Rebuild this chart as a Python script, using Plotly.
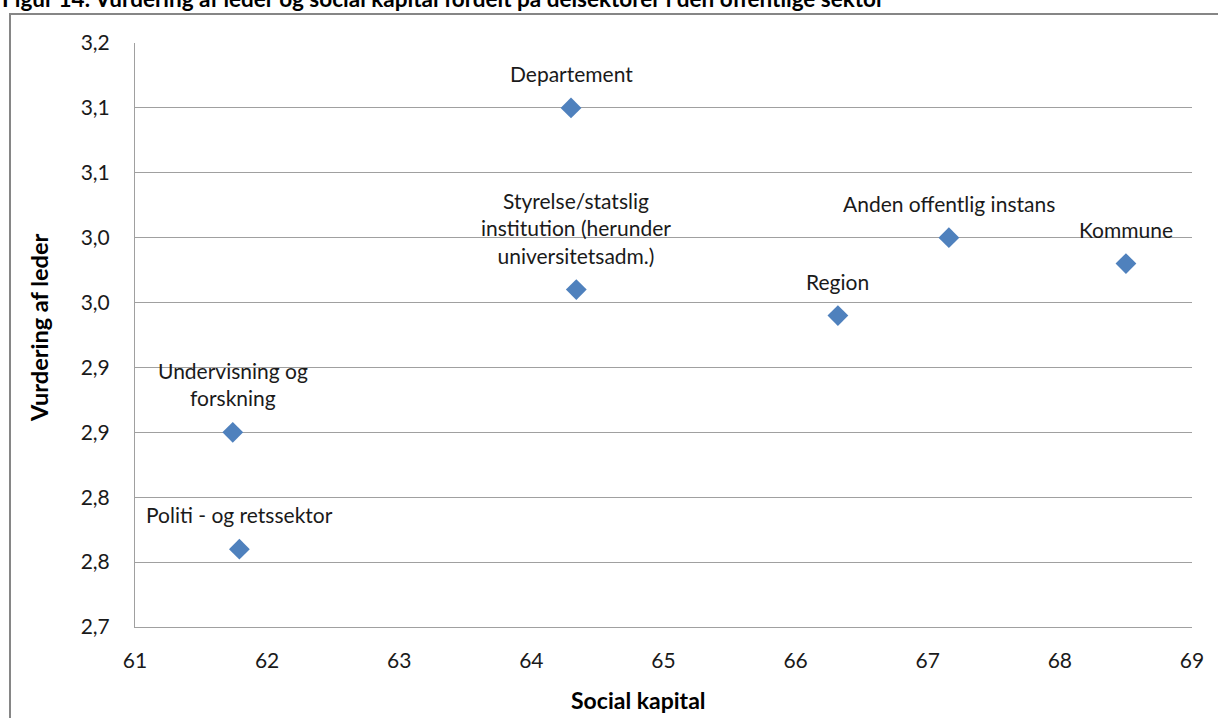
import plotly.graph_objects as go

# Data
labels = ["Departement", "Styrelse/statslig<br>institution (herunder<br>universitetsadm.)",
          "Anden offentlig instans", "Kommune", "Region",
          "Undervisning og<br>forskning", "Politi - og retssektor"]
social_kapital = [64.30, 64.34, 67.16, 68.50, 66.32, 61.74, 61.79]
vurdering = [3.10, 2.96, 3.00, 2.98, 2.94, 2.85, 2.76]

y_tickvals = [2.70, 2.75, 2.80, 2.85, 2.90, 2.95, 3.00, 3.05, 3.10, 3.15]
y_ticktext = ["2,7", "2,8", "2,8", "2,9", "2,9", "3,0", "3,0", "3,1", "3,1", "3,2"]
x_tickvals = [61, 62, 63, 64, 65, 66, 67, 68, 69]

FONT = "Lato"
W, H = 1218, 718
ml, mr, mt, mb = 135, 26, 43, 91
pw = W - ml - mr
ph = H - mt - mb

def px_x(px):
    return (px - ml) / pw

def px_y(py):
    return 1 - (py - mt) / ph

fig = go.Figure()
fig.add_trace(go.Scatter(
    x=social_kapital, y=vurdering, mode="markers",
    marker=dict(symbol="diamond", size=16, color="#4F81BD"),
    showlegend=False, cliponaxis=False,
))

annotations = []
for lx, ly, lt in zip(social_kapital, vurdering, labels):
    annotations.append(dict(
        x=lx, y=ly, xref="x", yref="y", text=lt, showarrow=False,
        xanchor="center", yanchor="bottom", yshift=20, align="center",
        font=dict(family=FONT, size=21, color="#1a1a1a"),
    ))

# Title (partially cut off at top, as in the reference)
annotations.append(dict(
    x=px_x(0), y=px_y(-1), xref="paper", yref="paper",
    text="<b>Figur 14: Vurdering af leder og social kapital fordelt på delsektorer i den offentlige sektor</b>",
    showarrow=False, xanchor="left", yanchor="middle",
    font=dict(family=FONT, size=22.5, color="#000000"),
))
# Axis titles
annotations.append(dict(
    x=px_x(638), y=px_y(700), xref="paper", yref="paper",
    text="<b>Social kapital</b>", showarrow=False,
    xanchor="center", yanchor="middle",
    font=dict(family=FONT, size=23, color="#000000"),
))
annotations.append(dict(
    x=px_x(39), y=px_y(328), xref="paper", yref="paper",
    text="<b>Vurdering af leder</b>", showarrow=False, textangle=-90,
    xanchor="center", yanchor="middle",
    font=dict(family=FONT, size=23.5, color="#000000"),
))

shapes = [dict(
    type="rect", xref="paper", yref="paper",
    x0=px_x(10), x1=px_x(1240), y0=px_y(740), y1=px_y(14),
    line=dict(color="#868686", width=2), fillcolor="rgba(0,0,0,0)",
    layer="below",
)]

fig.update_layout(
    width=W, height=H,
    margin=dict(l=ml, r=mr, t=mt, b=mb),
    paper_bgcolor="white", plot_bgcolor="white",
    font=dict(family=FONT, size=21, color="#1a1a1a"),
    annotations=annotations, shapes=shapes,
    xaxis=dict(range=[61, 69], tickvals=x_tickvals, ticktext=[str(v) for v in x_tickvals],
               showgrid=False, zeroline=False, showline=True, linecolor="#A0A0A0", linewidth=1,
               ticks="", ticklabelstandoff=15, tickfont=dict(family=FONT, size=21, color="#1a1a1a")),
    yaxis=dict(range=[2.70, 3.15], tickvals=y_tickvals, ticktext=y_ticktext,
               showgrid=True, gridcolor="#A0A0A0", gridwidth=1, zeroline=False,
               showline=True, linecolor="#A0A0A0", linewidth=1,
               ticks="", ticklabelstandoff=20, tickfont=dict(family=FONT, size=21, color="#1a1a1a")),
)

fig.write_html("out.html")
